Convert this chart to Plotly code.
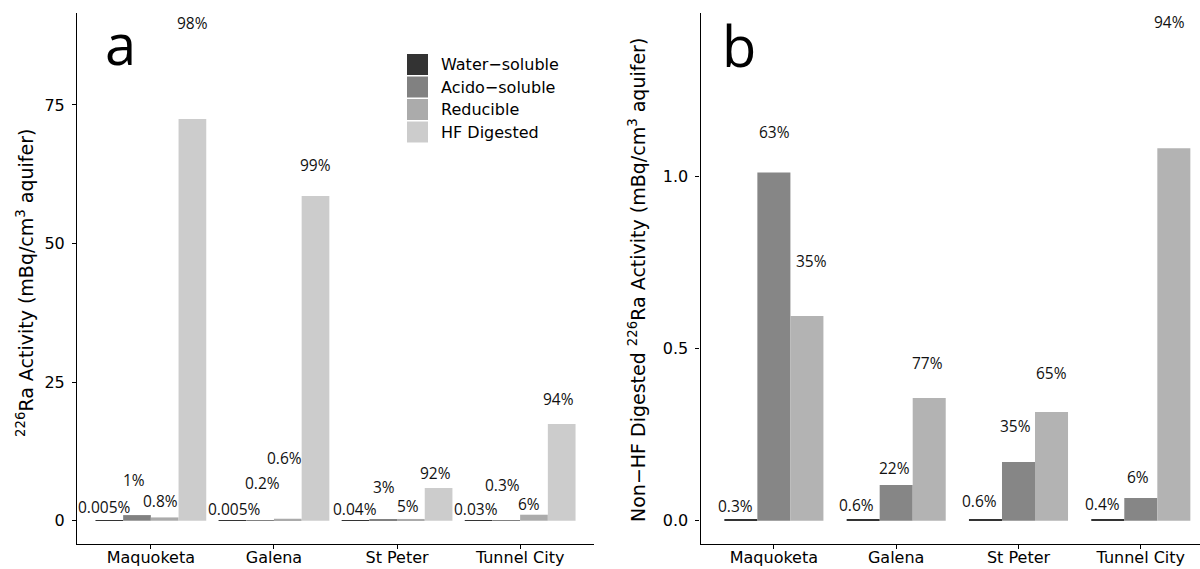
import plotly.graph_objects as go

# ---- data -------------------------------------------------------------
formations = ["Maquoketa", "Galena", "St Peter", "Tunnel City"]
fractions = ["Water−soluble", "Acido−soluble", "Reducible", "HF Digested"]

# 226Ra activity per fraction (mBq/cm3 aquifer)
water_soluble = [0.005, 0.0028, 0.0030, 0.0046]
acido_soluble = [1.012, 0.104, 0.171, 0.066]
reducible = [0.595, 0.357, 0.316, 1.083]
hf_digested = [72.46, 58.57, 5.90, 17.44]

# share of total activity (panel a)
pct_total_water = ["0.005%", "0.005%", "0.04%", "0.03%"]
pct_total_acido = ["1%", "0.2%", "3%", "0.3%"]
pct_total_reducible = ["0.8%", "0.6%", "5%", "6%"]
pct_total_hf = ["98%", "99%", "92%", "94%"]

# share of non-HF activity (panel b)
pct_nonhf_water = ["0.3%", "0.6%", "0.6%", "0.4%"]
pct_nonhf_acido = ["63%", "22%", "35%", "6%"]
pct_nonhf_reducible = ["35%", "77%", "65%", "94%"]

# ---- styling ----------------------------------------------------------
W, H = 1200, 569
greys_a = ["#333333", "#818181", "#ABABAB", "#CCCCCC"]
greys_b = ["#333333", "#868686", "#B3B3B3"]
AXIS_FONT = "DejaVu Sans"
LABEL_FONT = "Open Sans"

# bar geometry (category units)
width_a, offsets_a = 0.225, [-0.45, -0.225, 0.0, 0.225]
width_b, offsets_b = 0.27, [-0.405, -0.135, 0.135]

# label placement: vertical lift above bar top and horizontal nudge (px)
lift_a = [[14, 12, 12, 12], [35, 37, 33, 35], [16, 61, 13, 11], [96, 31, 15, 25]]
nudge_a = [[-5, 2, -1, -3], [-3, 2, 1, -4], [-4, -3, -3, -5], [0, 0, -3, -3]]
lift_b = [[13, 15, 19, 15], [41, 17, 36, 21], [55, 35, 39, 126]]
nudge_b = [[-5, -7, -6, -5], [1, -2, -3, -3], [5, -2, 0, -4]]


def px_x(x):
    return x / W


def px_y(y):
    return 1 - y / H


fig = go.Figure()

series_a = [water_soluble, acido_soluble, reducible, hf_digested]
labels_a = [pct_total_water, pct_total_acido, pct_total_reducible, pct_total_hf]
for k, (vals, name) in enumerate(zip(series_a, fractions)):
    fig.add_trace(go.Bar(
        x=formations, y=vals, name=name, width=width_a, offset=offsets_a[k],
        marker=dict(color=greys_a[k], line=dict(width=0)),
        xaxis="x", yaxis="y", showlegend=False, hoverinfo="skip",
    ))

series_b = [water_soluble, acido_soluble, reducible]
labels_b = [pct_nonhf_water, pct_nonhf_acido, pct_nonhf_reducible]
for k, vals in enumerate(series_b):
    fig.add_trace(go.Bar(
        x=formations, y=vals, name=fractions[k], width=width_b, offset=offsets_b[k],
        marker=dict(color=greys_b[k], line=dict(width=0)),
        xaxis="x2", yaxis="y2", showlegend=False, hoverinfo="skip",
    ))

annotations = []
label_font = dict(family=LABEL_FONT, size=15.5, color="#111111")
for k, (vals, texts) in enumerate(zip(series_a, labels_a)):
    for i, (v, t) in enumerate(zip(vals, texts)):
        annotations.append(dict(
            x=i + offsets_a[k] + width_a / 2, y=v, xref="x", yref="y",
            text=t, showarrow=False, xanchor="center", yanchor="middle",
            yshift=lift_a[k][i], xshift=nudge_a[k][i], font=label_font,
        ))
for k, (vals, texts) in enumerate(zip(series_b, labels_b)):
    for i, (v, t) in enumerate(zip(vals, texts)):
        annotations.append(dict(
            x=i + offsets_b[k] + width_b / 2, y=v, xref="x2", yref="y2",
            text=t, showarrow=False, xanchor="center", yanchor="middle",
            yshift=lift_b[k][i], xshift=nudge_b[k][i], font=label_font,
        ))

# axis titles
title_font = dict(family=AXIS_FONT, size=19, color="black")
annotations.append(dict(
    x=px_x(25), y=px_y(283), xref="paper", yref="paper", textangle=-90,
    text="<sup>226</sup>Ra Activity (mBq/cm<sup>3</sup> aquifer)",
    showarrow=False, xanchor="center", yanchor="middle", font=title_font,
))
annotations.append(dict(
    x=px_x(637), y=px_y(280), xref="paper", yref="paper", textangle=-90,
    text="Non−HF Digested <sup>226</sup>Ra Activity (mBq/cm<sup>3</sup> aquifer)",
    showarrow=False, xanchor="center", yanchor="middle", font=title_font,
))

# panel letters
annotations.append(dict(x=px_x(120.5), y=px_y(43), xref="paper", yref="paper",
                        text="a", showarrow=False, xanchor="center", yanchor="middle",
                        font=dict(family=LABEL_FONT, size=56, color="black")))
annotations.append(dict(x=px_x(739), y=px_y(45), xref="paper", yref="paper",
                        text="b", showarrow=False, xanchor="center", yanchor="middle",
                        font=dict(family=LABEL_FONT, size=56, color="black")))

# legend drawn as key squares and text
shapes = []
legend_tops = [54, 76.5, 99, 121.5]
for k, name in enumerate(fractions):
    top = legend_tops[k]
    shapes.append(dict(type="rect", xref="paper", yref="paper",
                       x0=px_x(407), x1=px_x(428), y0=px_y(top + 21), y1=px_y(top),
                       fillcolor=greys_a[k], line=dict(width=0)))
    annotations.append(dict(x=px_x(439), y=px_y(top + 10.5), xref="paper", yref="paper",
                            text=name, showarrow=False, xanchor="left", yanchor="middle",
                            font=dict(family=AXIS_FONT, size=16, color="black")))

axis_common = dict(
    showline=True, linecolor="black", linewidth=1.1, showgrid=False, zeroline=False,
    ticks="outside", ticklen=4, tickwidth=1.1, tickcolor="black",
    automargin=False,
)
xtick_font = dict(family=AXIS_FONT, size=16, color="black")
ytick_font = dict(family=AXIS_FONT, size=16, color="black")

y_dom = [px_y(544), px_y(13)]
fig.update_layout(
    width=W, height=H, autosize=False,
    margin=dict(l=0, r=0, t=0, b=0),
    paper_bgcolor="white", plot_bgcolor="white",
    barmode="overlay", showlegend=False,
    xaxis=dict(domain=[px_x(77), px_x(594)], range=[-0.6, 3.6], anchor="y",
               tickfont=xtick_font, ticklabelstandoff=-5, **axis_common),
    yaxis=dict(domain=y_dom, range=[-4.2, 91.58], anchor="x",
               tickvals=[0, 25, 50, 75], ticklabelstandoff=4, tickfont=ytick_font,
               **axis_common),
    xaxis2=dict(domain=[px_x(700.5), 1.0], range=[-0.6, 3.484], anchor="y2",
                tickfont=xtick_font, ticklabelstandoff=-5, **axis_common),
    yaxis2=dict(domain=y_dom, range=[-0.0677, 1.4759], anchor="x2",
                tickvals=[0.0, 0.5, 1.0], tickformat=".1f", ticklabelstandoff=4,
                tickfont=ytick_font, **axis_common),
    annotations=annotations, shapes=shapes,
)

fig.write_html("out.html")
